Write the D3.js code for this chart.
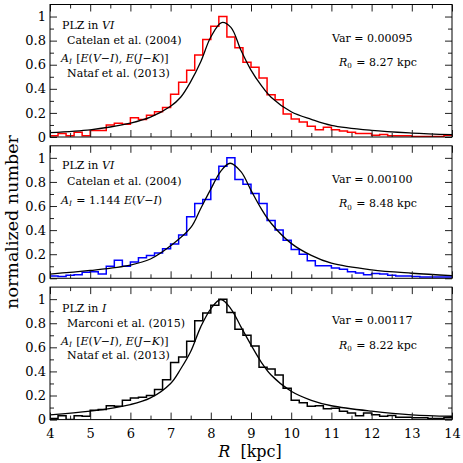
<!DOCTYPE html>
<html>
<head>
<meta charset="utf-8">
<script src="https://cdn.jsdelivr.net/npm/d3@7"></script>
<style>
body { margin: 0; background: #fff; }
text { white-space: pre; font-family: "DejaVu Serif", "Liberation Serif", serif; }
</style>
</head>
<body>
<svg id="chart" width="463" height="463" font-family="DejaVu Serif, Liberation Serif, serif"></svg>
<script>
// histogram bins: 0.2 kpc wide, starting at 4 kpc
const binStart = 4, binWidth = 0.2;

const histRed = [
    0.01, 0.03, 0.01, 0.04, 0.01,
    0.055, 0.055, 0.10, 0.115, 0.105,
    0.16, 0.145, 0.18, 0.21, 0.245,
    0.355, 0.455, 0.555, 0.68, 0.81,
    0.92, 1.0, 0.83, 0.74, 0.62,
    0.58, 0.49, 0.35, 0.31, 0.19,
    0.15, 0.125, 0.09, 0.06, 0.08,
    0.06, 0.05, 0.04, 0.03, 0.03,
    0.015, 0.02, 0.01, 0.01, 0.01,
    0.005, 0.005, 0.005, 0.005, 0.015
];
const histBlue = [
    0.02, 0.015, 0.025, 0.03, 0.05,
    0.055, 0.035, 0.10, 0.15, 0.10,
    0.135, 0.17, 0.19, 0.21, 0.245,
    0.285, 0.36, 0.51, 0.62, 0.655,
    0.82, 0.93, 1.0, 0.82, 0.78,
    0.705, 0.62, 0.48, 0.40, 0.315,
    0.24, 0.20, 0.145, 0.105, 0.105,
    0.085, 0.075, 0.055, 0.045, 0.03,
    0.04, 0.035, 0.025, 0.02, 0.02,
    0.015, 0.01, 0.01, 0.01, 0.01
];
const histBlack = [
    0.01, 0.033, 0.0, 0.033, 0.027,
    0.077, 0.083, 0.115, 0.11, 0.16,
    0.18, 0.185, 0.20, 0.25, 0.33,
    0.475, 0.52, 0.65, 0.82, 0.885,
    0.95, 1.0, 0.89, 0.75, 0.70,
    0.61, 0.435, 0.42, 0.37, 0.26,
    0.16, 0.14, 0.11, 0.115, 0.09,
    0.095, 0.07, 0.055, 0.033, 0.055,
    0.04, 0.028, 0.035, 0.02, 0.02,
    0.015, 0.015, 0.01, 0.01, 0.015
];

// fitted curves
const fitR1 = [4, 5, 5.5, 6, 6.5, 7, 7.25, 7.5, 7.75, 8, 8.27, 8.5, 8.75, 9, 9.25, 9.5, 10, 10.5, 11, 12, 13, 14];
const fitY1 = [0.036, 0.06, 0.083, 0.115, 0.165, 0.255, 0.33, 0.46, 0.625, 0.83, 0.95, 0.91, 0.72, 0.555, 0.43, 0.33, 0.21, 0.147, 0.097, 0.055, 0.033, 0.02];
const fitR2 = [4, 5, 6, 6.5, 7, 7.5, 7.75, 8, 8.25, 8.48, 8.75, 9, 9.25, 9.5, 10, 10.5, 11, 12, 13, 14];
const fitY2 = [0.035, 0.065, 0.11, 0.16, 0.27, 0.42, 0.58, 0.74, 0.89, 0.955, 0.885, 0.73, 0.58, 0.457, 0.29, 0.19, 0.125, 0.07, 0.042, 0.022];
const fitR3 = [4, 5, 6, 6.5, 7, 7.25, 7.5, 7.75, 8, 8.25, 8.5, 8.75, 9, 9.25, 9.5, 10, 10.5, 11, 12, 13, 14];
const fitY3 = [0.04, 0.07, 0.125, 0.18, 0.30, 0.42, 0.565, 0.77, 0.92, 0.997, 0.92, 0.77, 0.62, 0.48, 0.37, 0.235, 0.16, 0.115, 0.07, 0.04, 0.028];

const xMajor = [4, 5, 6, 7, 8, 9, 10, 11, 12, 13, 14];
const xMinor = [4.5, 5.5, 6.5, 7.5, 8.5, 9.5, 10.5, 11.5, 12.5, 13.5];
const yMajor = [0, 0.2, 0.4, 0.6, 0.8, 1];
const yMinor = [0.1, 0.3, 0.5, 0.7, 0.9];

const varLabels = ['0.00095', '0.00100', '0.00117'];
const r0Labels = ['8.27', '8.48', '8.22'];

const FONT = '"DejaVu Serif", "Liberation Serif", serif';
const svg = d3.select('#chart');
const left = 50, right = 452;
const panelH = 132.5, panelStep = 141.3, firstTop = 4.5;

const x = d3.scaleLinear().domain([4, 14]).range([left, right]);

const panels = [
    {hist: histRed, color: '#ff0000', fr: fitR1, fy: fitY1},
    {hist: histBlue, color: '#0000ff', fr: fitR2, fy: fitY2},
    {hist: histBlack, color: '#000000', fr: fitR3, fy: fitY3}
];

// helper: append text made of [string, italic, sub, unsub] parts
function richText(g, xPos, yPos, parts, size) {
    let t = g.append('text').attr('x', xPos).attr('y', yPos)
        .attr('font-size', size).attr('font-family', FONT);
    parts.forEach(p => {
        let s = t.append('tspan').text(p[0]);
        if (p[1]) s.attr('font-style', 'italic');
        if (p[2]) s.attr('font-size', size * 0.65).attr('dy', 2.2);
        if (p[3]) s.attr('dy', -2.2).attr('dx', 1);
    });
    return t;
}

panels.forEach((p, i) => {
    let top = firstTop + i * panelStep;
    let bottom = top + panelH;
    let y = d3.scaleLinear().domain([0, 1.1]).range([bottom, top]);
    let g = svg.append('g');

    g.append('clipPath').attr('id', 'clip' + i)
        .append('rect').attr('x', left).attr('y', top).attr('width', right - left).attr('height', panelH);

    // histogram
    let pts = p.hist.map((v, k) => [binStart + k * binWidth, v]);
    pts.push([14, p.hist[p.hist.length - 1]]);
    let step = d3.line().x(d => x(d[0])).y(d => y(d[1])).curve(d3.curveStepAfter);
    g.append('path').attr('d', step(pts))
        .attr('fill', 'none').attr('stroke', p.color).attr('stroke-width', 1.5)
        .attr('clip-path', `url(#clip${i})`);

    // fit
    let fit = d3.line().x(d => x(d[0])).y(d => y(d[1])).curve(d3.curveCatmullRom);
    g.append('path').attr('d', fit(p.fr.map((r, k) => [r, p.fy[k]])))
        .attr('fill', 'none').attr('stroke', '#000').attr('stroke-width', 1.3)
        .attr('clip-path', `url(#clip${i})`);

    // axes with inward ticks
    let last = i === panels.length - 1;
    let axes = [
        [d3.axisBottom(x).tickValues(xMajor).tickSize(-7).tickPadding(9).tickFormat(last ? d3.format('d') : ''), `translate(0,${bottom})`],
        [d3.axisBottom(x).tickValues(xMinor).tickSize(-4).tickFormat(''), `translate(0,${bottom})`],
        [d3.axisTop(x).tickValues(xMajor).tickSize(-7).tickFormat(''), `translate(0,${top})`],
        [d3.axisTop(x).tickValues(xMinor).tickSize(-4).tickFormat(''), `translate(0,${top})`],
        [d3.axisLeft(y).tickValues(yMajor).tickSize(-7).tickPadding(4).tickFormat(d3.format('~g')), `translate(${left},0)`],
        [d3.axisLeft(y).tickValues(yMinor).tickSize(-4).tickFormat(''), `translate(${left},0)`],
        [d3.axisRight(y).tickValues(yMajor).tickSize(-7).tickFormat(''), `translate(${right},0)`],
        [d3.axisRight(y).tickValues(yMinor).tickSize(-4).tickFormat(''), `translate(${right},0)`]
    ];
    axes.forEach(a => {
        let ag = g.append('g').attr('transform', a[1]).call(a[0]);
        ag.select('.domain').remove();
        ag.attr('font-family', FONT).attr('font-size', 13);
        ag.selectAll('line').attr('stroke', '#222');
        ag.selectAll('text').attr('fill', '#000').attr('font-family', FONT);
    });

    g.append('rect').attr('x', left).attr('y', top).attr('width', right - left).attr('height', panelH)
        .attr('fill', 'none').attr('stroke', '#000').attr('stroke-width', 1);

    // annotations
    let fs = 11;
    if (i === 0) {
        richText(g, 62, top + 24, [['PLZ in '], ['VI', true]], fs);
        richText(g, 67, top + 39.5, [['Catelan et al. (2004)']], fs);
        richText(g, 61, top + 57.5, [['A', true], ['I', true, true], [' [', false, false, true], ['E', true], ['('], ['V', true], ['\u2212'], ['I', true], ['), '], ['E', true], ['('], ['J', true], ['\u2212'], ['K', true], [')]']], fs);
        richText(g, 67, top + 72, [['Nataf et al. (2013)']], fs);
    } else if (i === 1) {
        richText(g, 62, top + 23.5, [['PLZ in '], ['VI', true]], fs);
        richText(g, 67, top + 39, [['Catelan et al. (2004)']], fs);
        richText(g, 61, top + 58, [['A', true], ['I', true, true], [' = 1.144 ', false, false, true], ['E', true], ['('], ['V', true], ['\u2212'], ['I', true], [')']], fs);
    } else {
        richText(g, 62, top + 24.5, [['PLZ in '], ['I', true]], fs);
        richText(g, 67, top + 39.5, [['Marconi et al. (2015)']], fs);
        richText(g, 61, top + 58, [['A', true], ['I', true, true], [' [', false, false, true], ['E', true], ['('], ['V', true], ['\u2212'], ['I', true], ['), '], ['E', true], ['('], ['J', true], ['\u2212'], ['K', true], [')]']], fs);
        richText(g, 67, top + 72, [['Nataf et al. (2013)']], fs);
    }
    richText(g, 332, top + 37, [['Var = ' + varLabels[i]]], fs);
    richText(g, 339, top + 61.5, [['R', true], ['0', false, true], [' = ' + r0Labels[i] + ' kpc', false, false, true]], fs);
});

svg.append('text').attr('transform', 'translate(18,222) rotate(-90)')
    .attr('text-anchor', 'middle').attr('font-size', 17.5).attr('font-family', FONT)
    .text('normalized number');

let xt = svg.append('text').attr('x', 250).attr('y', 457).attr('text-anchor', 'middle')
    .attr('font-size', 16).attr('font-family', FONT);
xt.append('tspan').attr('font-style', 'italic').text('R');
xt.append('tspan').text('  [kpc]');
</script>
</body>
</html>
